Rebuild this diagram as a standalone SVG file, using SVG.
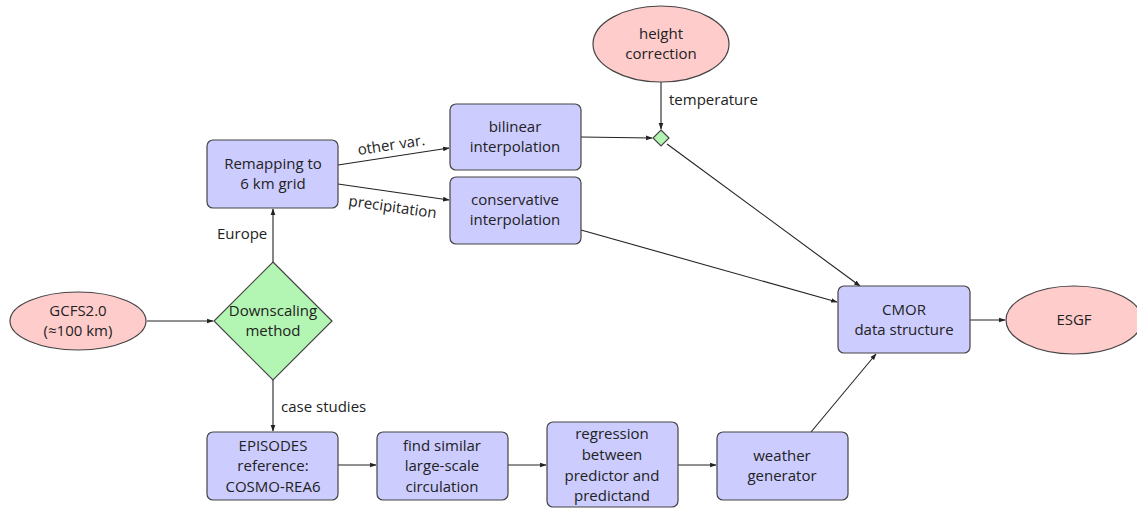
<svg xmlns="http://www.w3.org/2000/svg" width="1137" height="508" viewBox="0 0 1137 508">
<style>
text{font-family:"Open Sans","Liberation Sans",sans-serif;font-size:15px;fill:#222;text-anchor:middle}
.lbl{text-anchor:start}
.box{fill:#ccccff;stroke:#444;stroke-width:1.2}
.ell{fill:#ffcccc;stroke:#444;stroke-width:1.2}
.dia{fill:#b3f5b3;stroke:#444;stroke-width:1.2}
.c{fill:none;stroke:#222;stroke-width:1.1}
</style>
<defs>
<marker id="a" viewBox="0 0 10 10" refX="9" refY="5" markerWidth="6" markerHeight="6" orient="auto"><path d="M0,1.5L10,5L0,8.5z" fill="#222"/></marker>
</defs>
<rect width="1137" height="508" fill="#fff"/>
<g id="connectors">
<line class="c" x1="147" y1="321" x2="213" y2="321" marker-end="url(#a)"/>
<line class="c" x1="273" y1="262" x2="273" y2="209" marker-end="url(#a)"/>
<line class="c" x1="273" y1="380" x2="273" y2="431" marker-end="url(#a)"/>
<line class="c" x1="338" y1="165" x2="449" y2="148" marker-end="url(#a)"/>
<line class="c" x1="338" y1="184" x2="449" y2="200" marker-end="url(#a)"/>
<line class="c" x1="581" y1="137" x2="652" y2="138" marker-end="url(#a)"/>
<line class="c" x1="661" y1="82" x2="661" y2="129" marker-end="url(#a)"/>
<line class="c" x1="667" y1="144" x2="860" y2="286" marker-end="url(#a)"/>
<line class="c" x1="581" y1="230" x2="837" y2="302" marker-end="url(#a)"/>
<line class="c" x1="970" y1="320" x2="1005" y2="320" marker-end="url(#a)"/>
<line class="c" x1="338" y1="465" x2="376" y2="465" marker-end="url(#a)"/>
<line class="c" x1="508" y1="465" x2="546" y2="465" marker-end="url(#a)"/>
<line class="c" x1="678" y1="465" x2="716" y2="465" marker-end="url(#a)"/>
<line class="c" x1="811" y1="432" x2="876" y2="354" marker-end="url(#a)"/>
<text class="lbl" x="217" y="239">Europe</text>
<text class="lbl" x="281" y="412">case studies</text>
<text class="lbl" x="669" y="105">temperature</text>
<text x="392" y="150" transform="rotate(-8.6 392 150)">other var.</text>
<text x="392" y="212" transform="rotate(8.1 392 212)">precipitation</text>
</g>
<g id="gcfs"><ellipse class="ell" cx="78" cy="321" rx="68" ry="29"/><text x="78" y="316">GCFS2.0</text><text x="78" y="336">(≈100 km)</text></g>
<g id="downscaling"><polygon class="dia" points="273,262 332,321 273,380 214,321"/><text x="273" y="316">Downscaling</text><text x="273" y="336">method</text></g>
<g id="remap"><rect class="box" x="207" y="140" width="131" height="68" rx="6"/><text x="273" y="169">Remapping to</text><text x="273" y="189">6 km grid</text></g>
<g id="bilinear"><rect class="box" x="450" y="104" width="131" height="66" rx="6"/><text x="515" y="132">bilinear</text><text x="515" y="152">interpolation</text></g>
<g id="conservative"><rect class="box" x="450" y="177" width="131" height="67" rx="6"/><text x="515" y="205">conservative</text><text x="515" y="225">interpolation</text></g>
<g id="height"><ellipse class="ell" cx="661" cy="44" rx="68" ry="38"/><text x="661" y="39">height</text><text x="661" y="59">correction</text></g>
<g id="junction"><polygon class="dia" points="661,130 669,138 661,146 653,138"/></g>
<g id="cmor"><rect class="box" x="838" y="286" width="132" height="67" rx="6"/><text x="904" y="315">CMOR</text><text x="904" y="335">data structure</text></g>
<g id="esgf"><ellipse class="ell" cx="1074" cy="320" rx="68" ry="34"/><text x="1074" y="325">ESGF</text></g>
<g id="episodes"><rect class="box" x="207" y="432" width="131" height="68" rx="6"/><text x="273" y="451">EPISODES</text><text x="273" y="471">reference:</text><text x="273" y="492">COSMO-REA6</text></g>
<g id="find"><rect class="box" x="377" y="432" width="131" height="68" rx="6"/><text x="442" y="451">find similar</text><text x="442" y="471">large-scale</text><text x="442" y="492">circulation</text></g>
<g id="regression"><rect class="box" x="547" y="422" width="131" height="85" rx="6"/><text x="612" y="439">regression</text><text x="612" y="460">between</text><text x="612" y="481">predictor and</text><text x="612" y="501">predictand</text></g>
<g id="weather"><rect class="box" x="717" y="432" width="131" height="68" rx="6"/><text x="782" y="461">weather</text><text x="782" y="481">generator</text></g>
</svg>
